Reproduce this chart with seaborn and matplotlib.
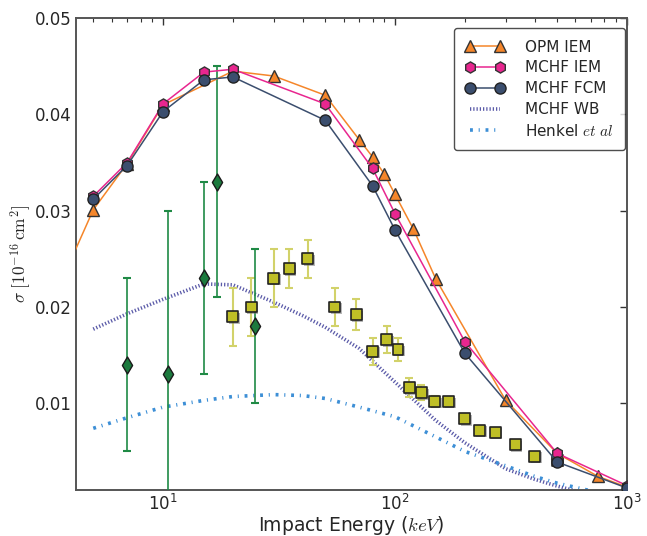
import numpy as np
import pandas as pd
import matplotlib
matplotlib.use("Agg")
import matplotlib.pyplot as plt
import matplotlib.patheffects as pe
import seaborn as sns

# ---------------- data ----------------
opm_E = [3, 5, 7, 10, 20, 30, 50, 70, 80, 90, 100, 120, 150, 300, 500, 750, 1000]
opm_s = [0.0181, 0.0301, 0.0349, 0.0410, 0.0445, 0.0440, 0.0420, 0.0374, 0.0356, 0.0338,
         0.0317, 0.0281, 0.0229, 0.0103, 0.0048, 0.0024, 0.0013]

iem_E = [5, 7, 10, 15, 20, 50, 80, 100, 200, 500, 1000]
iem_s = [0.0315, 0.0350, 0.0411, 0.0444, 0.0447, 0.0411, 0.0344, 0.0297, 0.0164, 0.0048, 0.00145]

fcm_E = [5, 7, 10, 15, 20, 50, 80, 100, 200, 500, 1000]
fcm_s = [0.0312, 0.0347, 0.0403, 0.0436, 0.0439, 0.0394, 0.0326, 0.0280, 0.0152, 0.0039, 0.0012]

wb_E = [5, 7, 10, 15, 20, 30, 40, 50, 70, 100, 150, 200, 300, 400, 500, 600]
wb_s = [0.0177, 0.0193, 0.0208, 0.0224, 0.0223, 0.0205, 0.0191, 0.0179, 0.0157, 0.0122,
        0.0082, 0.0059, 0.0032, 0.0021, 0.0014, 0.0009]

hk_E = [5, 7, 10, 15, 20, 30, 40, 50, 70, 100, 150, 200, 300, 400, 500, 700]
hk_s = [0.0074, 0.0085, 0.0096, 0.0103, 0.0107, 0.0109, 0.0108, 0.0105, 0.0096, 0.0086,
        0.0065, 0.0050, 0.0035, 0.0024, 0.0017, 0.0009]

dia_E = [7, 10.5, 15, 17, 25]
dia_s = [0.014, 0.013, 0.023, 0.033, 0.018]
dia_err = [0.009, 0.017, 0.010, 0.012, 0.008]

sq_E = [20, 24, 30, 35, 42, 55, 68, 80, 92, 103, 115, 130, 148, 170, 200, 232, 270, 330, 400, 500]
sq_s = [0.0190, 0.0200, 0.0230, 0.0240, 0.0250, 0.0200, 0.0192, 0.0154, 0.0166, 0.0156,
        0.0116, 0.0111, 0.0102, 0.0102, 0.0084, 0.0072, 0.0070, 0.0057, 0.0045, 0.0041]
sq_err = [0.003, 0.003, 0.003, 0.002, 0.002, 0.002, 0.0016, 0.0014, 0.0014, 0.0012,
          0.001, 0.0008, 0.0006, 0.0005, 0.0, 0.0, 0.0, 0.0, 0.0, 0.0]

# ---------------- style ----------------
sns.set_style("white")
plt.rcParams["font.family"] = ["DejaVu Sans"]
plt.rcParams["mathtext.fontset"] = "cm"

fig = plt.figure(figsize=(6.47, 5.36), dpi=100)
ax = fig.add_axes([0.117, 0.086, 0.852, 0.880])

shadow = [pe.SimplePatchShadow(offset=(1.2, -1.2), shadow_rgbFace="0.45", alpha=0.5), pe.Normal()]

c_opm = "#f5862a"
c_iem = "#e8268f"
c_fcm = "#3b4e6e"
c_wb = "#5a5aa8"
c_hk = "#3d8fd6"

df_wb = pd.DataFrame({"E": wb_E, "s": wb_s})
sns.lineplot(data=df_wb, x="E", y="s", ax=ax, color=c_wb, lw=2.6, ls=(0, (0.35, 0.55)),
             label="MCHF WB", zorder=2)
df_hk = pd.DataFrame({"E": hk_E, "s": hk_s})
sns.lineplot(data=df_hk, x="E", y="s", ax=ax, color=c_hk, lw=2.6,
             ls=(0, (0.8, 1.6, 0.3, 1.6)), label="Henkel $et\\ al$", zorder=2)

# experimental data with error bars
df_sq = pd.DataFrame({"E": sq_E, "s": sq_s, "err": sq_err})
ax.errorbar(df_sq["E"], df_sq["s"], yerr=df_sq["err"], fmt="none", ecolor="#d2d26a",
            elinewidth=1.5, capsize=3, capthick=1.5, zorder=3)
sns.scatterplot(data=df_sq, x="E", y="s", ax=ax, marker="s", s=62, color="#bfbf26",
                edgecolor="#222222", linewidth=1.2, zorder=4, legend=False,
                path_effects=shadow)

df_d = pd.DataFrame({"E": dia_E, "s": dia_s, "err": dia_err})
ax.errorbar(df_d["E"], df_d["s"], yerr=df_d["err"], fmt="none", ecolor="#1f8a45",
            elinewidth=1.2, capsize=3, capthick=1.5, zorder=3)
sns.scatterplot(data=df_d, x="E", y="s", ax=ax, marker="d", s=75, color="#1c7a3e",
                edgecolor="#1a1a1a", linewidth=1.0, zorder=4, legend=False)

# theory curves
df_opm = pd.DataFrame({"E": opm_E, "s": opm_s})
sns.lineplot(data=df_opm, x="E", y="s", ax=ax, color=c_opm, lw=1.1, marker="^", ms=8,
             mfc=c_opm, mec="#333333", mew=1.0, label="OPM IEM", zorder=5)
df_iem = pd.DataFrame({"E": iem_E, "s": iem_s})
sns.lineplot(data=df_iem, x="E", y="s", ax=ax, color=c_iem, lw=1.1, marker="h", ms=8,
             mfc=c_iem, mec="#333333", mew=1.0, label="MCHF IEM", zorder=6)
df_fcm = pd.DataFrame({"E": fcm_E, "s": fcm_s})
sns.lineplot(data=df_fcm, x="E", y="s", ax=ax, color=c_fcm, lw=1.1, marker="o", ms=8,
             mfc=c_fcm, mec="#222222", mew=1.0, label="MCHF FCM", zorder=7)

ax.set_xscale("log")
ax.set_xlim(4.2, 1000)
ax.set_ylim(0.001, 0.05)
ax.set_yticks([0.01, 0.02, 0.03, 0.04, 0.05])
ax.set_yticklabels(["0.01", "0.02", "0.03", "0.04", "0.05"])

ax.tick_params(axis="both", which="both", direction="in", top=True, right=True,
               labelsize=12, color="#333333", pad=3)
ax.tick_params(axis="both", which="major", length=5, width=1)
ax.tick_params(axis="x", which="minor", length=3, width=0.8)
for sp in ax.spines.values():
    sp.set_color("#555555")
    sp.set_linewidth(1.4)

ax.set_xlabel("Impact Energy ($keV$)", fontsize=13.5, labelpad=0)
ax.set_ylabel("$\\sigma\\ [10^{-16}\\,\\mathrm{cm}^2]$", fontsize=12.5, labelpad=1)

handles, labels = ax.get_legend_handles_labels()
order = ["OPM IEM", "MCHF IEM", "MCHF FCM", "MCHF WB", "Henkel $et\\ al$"]
hmap = dict(zip(labels, handles))
leg = ax.legend([hmap[k] for k in order], order, loc="upper right", fontsize=11,
                numpoints=2, handlelength=2.6, frameon=True, fancybox=True,
                borderpad=0.75, labelspacing=0.38, handletextpad=1.3,
                borderaxespad=0, bbox_to_anchor=(0.997, 0.979))
leg.get_frame().set_edgecolor("#222222")
leg.get_frame().set_linewidth(1.0)

fig.savefig("out.png", dpi=100)
